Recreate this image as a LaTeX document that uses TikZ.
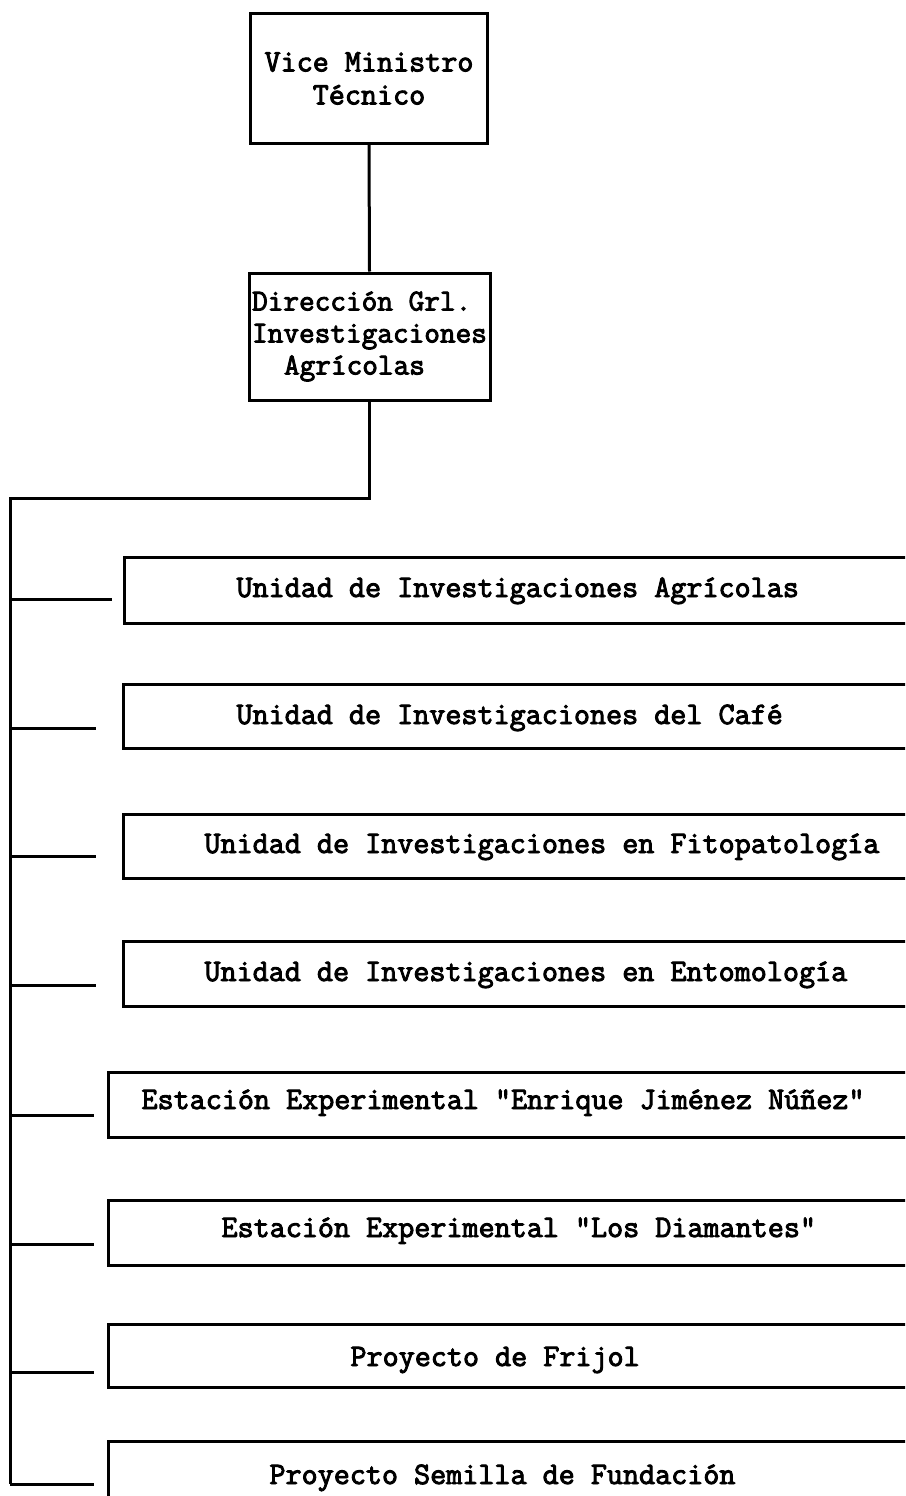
\documentclass[tikz,border=0pt]{standalone}
\usepackage{fontspec}
\setmonofont{Latin Modern Mono}[AutoFakeBold=3]
\begin{document}
\begin{tikzpicture}[x=1pt,y=-1pt,line width=3pt,
  font=\ttfamily\bfseries\fontsize{31.2}{33}\selectfont,
  topbox/.style={draw,line width=3pt,inner sep=0pt,align=center},
  ubox/.style={draw,line width=3pt,inner sep=0pt,anchor=north west,minimum width=820pt},
  lab/.style={anchor=base west,inner sep=0pt},
  link/.style={draw,line width=3pt}]
\clip (0,0) rectangle (905,1496);
% top boxes
\node[topbox,minimum width=237pt,minimum height=129pt] (vm) at (369,78.5)
  {Vice Ministro\\Técnico};
\node[topbox,minimum width=241pt,minimum height=127pt,align=left,inner xsep=3pt,
  font=\ttfamily\bfseries\fontsize{30.4}{32}\selectfont] (dg) at (369.5,336.5)
  {Dirección Grl.\\Investigaciones\\\hspace*{1.05em}Agrícolas};
% unit boxes
\node[ubox,minimum height=66pt] (b1) at (123,556) {};
\node[ubox,minimum height=64pt] (b2) at (122,683) {};
\node[ubox,minimum height=64pt] (b3) at (122,813) {};
\node[ubox,minimum height=65pt] (b4) at (122,940) {};
\node[ubox,minimum height=65pt] (b5) at (107,1071) {};
\node[ubox,minimum height=65pt] (b6) at (107,1199) {};
\node[ubox,minimum height=63pt] (b7) at (107,1323) {};
\node[ubox,minimum height=70pt] (b8) at (107,1440) {};
% texts
\node[lab] (t1) at (235,597) {Unidad de Investigaciones Agrícolas};
\node[lab] (t2) at (235,724) {Unidad de Investigaciones del Café};
\node[lab] (t3) at (203,853) {Unidad de Investigaciones en Fitopatología};
\node[lab] (t4) at (203,981) {Unidad de Investigaciones en Entomología};
\node[lab] (t5) at (140,1109) {Estación Experimental "Enrique Jiménez Núñez"};
\node[lab] (t6) at (220,1237) {Estación Experimental "Los Diamantes"};
\node[lab] (t7) at (349,1366) {Proyecto de Frijol};
\node[lab] (t8) at (268,1484) {Proyecto Semilla de Fundación};
% spine coordinates
\coordinate (sTop) at (10,498);
\coordinate (s1) at (10,599);
\coordinate (s2) at (10,728);
\coordinate (s3) at (10,856);
\coordinate (s4) at (10,985);
\coordinate (s5) at (10,1115);
\coordinate (s6) at (10,1244);
\coordinate (s7) at (10,1372);
\coordinate (s8) at (10,1484);
\coordinate (e1) at (112,599);
\coordinate (e2) at (96,728);
\coordinate (e3) at (96,856);
\coordinate (e4) at (96,985);
\coordinate (e5) at (94,1115);
\coordinate (e6) at (94,1244);
\coordinate (e7) at (94,1372);
\coordinate (e8) at (94,1484);
% connectors
\draw[link] (vm.south) -- (dg.north);
\draw[link] (dg.south) |- (sTop) -- (s8);
\foreach \i in {1,...,8} {\draw[link] (s\i) -- (e\i);}
\end{tikzpicture}
\end{document}
